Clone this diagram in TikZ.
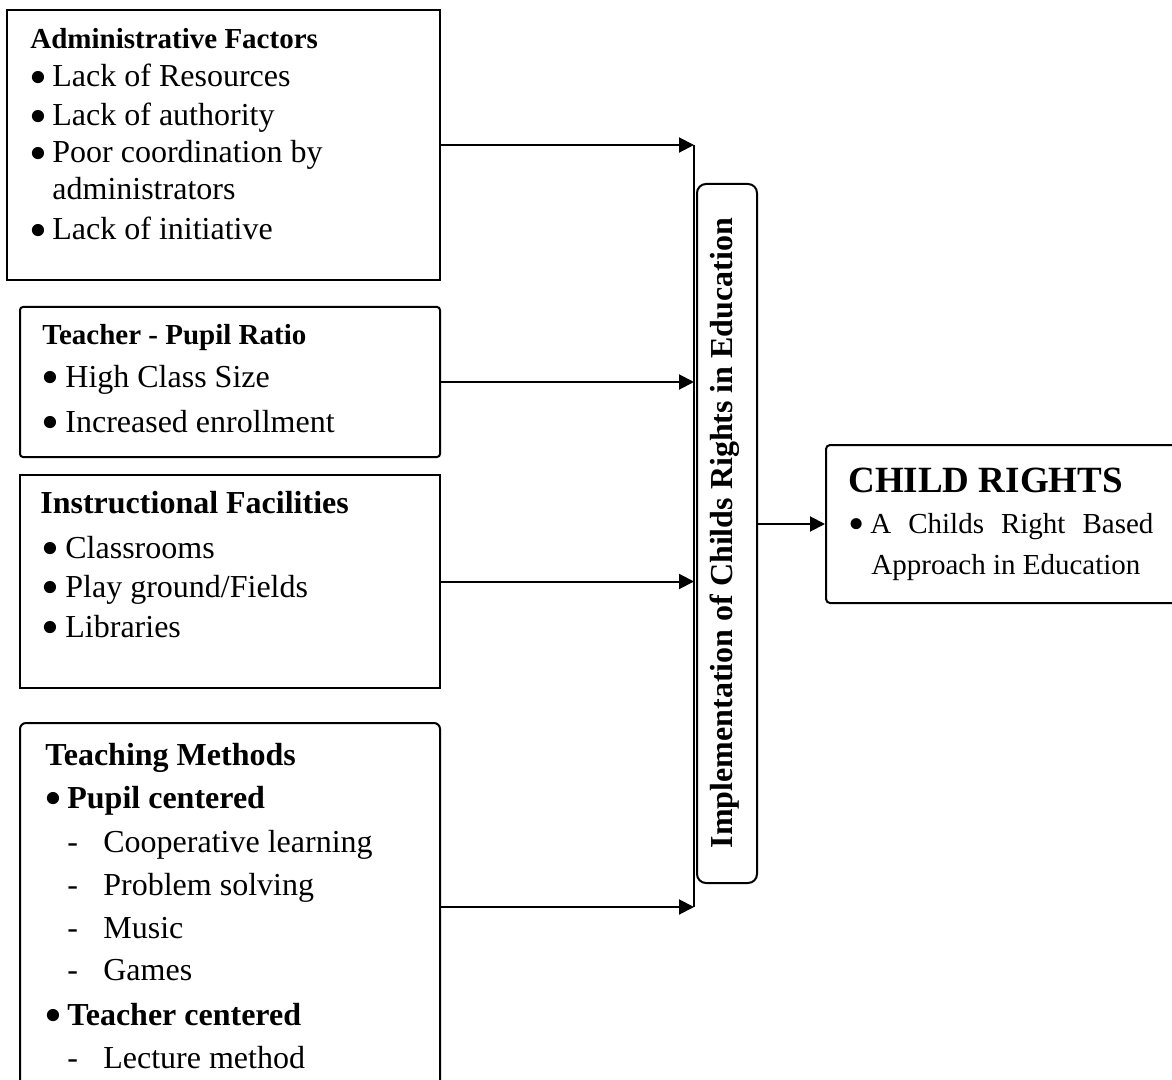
\documentclass[tikz,border=0pt]{standalone}
\usepackage{fontspec}
\usepackage{graphicx}
\setmainfont{Liberation Serif}
\usetikzlibrary{arrows.meta}
\newcommand\bul{\smash{\raisebox{-0.24em}{\scalebox{1.6}{•}}}}
\begin{document}
\begin{tikzpicture}[x=0.5pt,y=-0.5pt,
 boxs/.style={draw, line width=1pt, inner sep=0pt},
 txt/.style={anchor=base west, inner sep=0pt, font=\fontsize{16}{19}\selectfont},
 hdsmall/.style={anchor=base west, inner sep=0pt, font=\fontsize{14.5}{17}\selectfont\bfseries},
 hd/.style={anchor=base west, inner sep=0pt, font=\fontsize{16}{19}\selectfont\bfseries},
 small/.style={anchor=base west, inner sep=0pt, font=\fontsize{14.5}{17}\selectfont},
 arr/.style={line width=1pt, -{Triangle[length=7.5pt,width=7.5pt]}},
 ln/.style={line width=1pt}]
\useasboundingbox (0,0) rectangle (1172,1080);

% boxes
\node[boxs, minimum width=216.5pt, minimum height=135pt] (adm) at (223.5,145) {};
\node[boxs, rounded corners=1.5pt, minimum width=210pt, minimum height=75pt] (tpr) at (230,382) {};
\node[boxs, minimum width=210pt, minimum height=106.5pt] (inf) at (230,581.5) {};
\node[boxs, rounded corners=3pt, minimum width=210pt, minimum height=184pt] (tm) at (230,907) {};
\node[boxs, rounded corners=4.5pt, minimum width=30pt, minimum height=349.5pt] (impl) at (727,533.5) {};
\node[boxs, rounded corners=2pt, minimum width=177pt, minimum height=79pt] (cr) at (1003,524) {};

% box 1
\node[hdsmall] (a0) at (30,49) {Administrative Factors};
\node[txt] (a1) at (29,87) {\makebox[11.5pt][l]{\bul}Lack of Resources};
\node[txt] (a2) at (29,126) {\makebox[11.5pt][l]{\bul}Lack of authority};
\node[txt] (a3) at (29,163) {\makebox[11.5pt][l]{\bul}Poor coordination by};
\node[txt] (a4) at (52,200) {administrators};
\node[txt] (a5) at (29,240) {\makebox[11.5pt][l]{\bul}Lack of initiative};

% box 2
\node[hdsmall] (b0) at (42,345) {Teacher - Pupil Ratio};
\node[txt] (b1) at (41,387) {\makebox[12pt][l]{\bul}High Class Size};
\node[txt] (b2) at (41,432) {\makebox[12pt][l]{\bul}Increased enrollment};

% box 3
\node[hd] (c0) at (40,513) {Instructional Facilities};
\node[txt] (c1) at (41,558) {\makebox[12pt][l]{\bul}Classrooms};
\node[txt] (c2) at (41,597) {\makebox[12pt][l]{\bul}Play ground/Fields};
\node[txt] (c3) at (41,637) {\makebox[12pt][l]{\bul}Libraries};

% box 4
\node[hd] (d0) at (45,765) {Teaching Methods};
\node[hd] (d1) at (44,808) {\makebox[11.5pt][l]{\mdseries\bul}Pupil centered};
\node[txt] (d2) at (67,852) {\makebox[18pt][l]{-}Cooperative learning};
\node[txt] (d3) at (67,895) {\makebox[18pt][l]{-}Problem solving};
\node[txt] (d4) at (67,938) {\makebox[18pt][l]{-}Music};
\node[txt] (d5) at (67,980) {\makebox[18pt][l]{-}Games};
\node[hd] (d6) at (44,1025) {\makebox[11.5pt][l]{\mdseries\bul}Teacher centered};
\node[txt] (d7) at (67,1068) {\makebox[18pt][l]{-}Lecture method};

% vertical label
\node[rotate=90, anchor=base, inner sep=0pt, font=\fontsize{16}{19}\selectfont\bfseries] (implt) at (732,533) {Implementation of Childs Rights in Education};

% child rights box
\node[anchor=base west, inner sep=0pt, font=\fontsize{18.5}{22}\selectfont\bfseries] (cr0) at (848,492) {CHILD RIGHTS};
\node[small] (cr1) at (848,533) {\makebox[11pt][l]{\bul}\makebox[141.5pt][s]{A Childs Right Based}};
\node[small] (cr2) at (871,574) {Approach in Education};

% connectors
\coordinate (bus) at (694,0);
\draw[arr] (adm.east) -- (adm.east -| bus);
\draw[arr] (tpr.east) -- (tpr.east -| bus);
\draw[arr] (inf.east) -- (inf.east -| bus);
\draw[arr] (tm.east) -- (tm.east -| bus);
\draw[ln] (adm.east -| bus) -- (tm.east -| bus);
\draw[arr] (impl.east |- cr.west) -- (cr.west);
\end{tikzpicture}
\end{document}
